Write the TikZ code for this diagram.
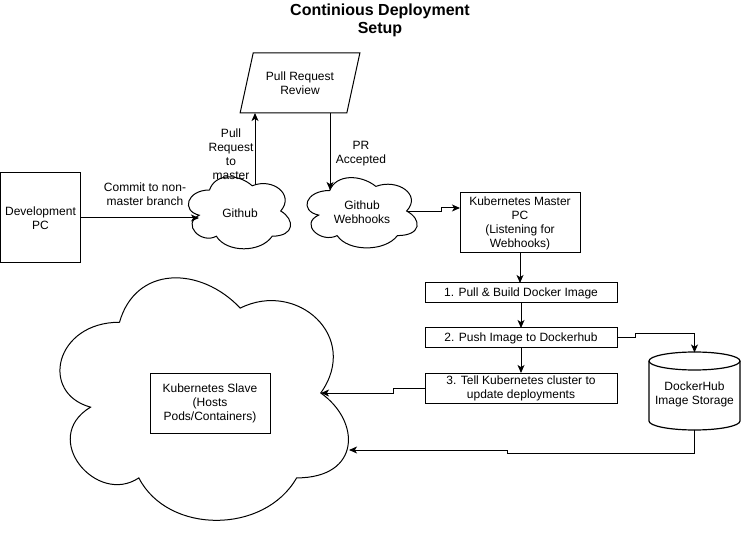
\documentclass[tikz,border=0pt]{standalone}
\usepackage{fontspec}
\setmainfont{Liberation Sans}
\usetikzlibrary{shapes.geometric,arrows.meta}
\newcommand\mxcloud[4]{\draw[cloudline,shift={(#1,#2)},xscale=#3,yscale=#4] (0.25,0.25) .. controls (0.05,0.25) and (0,0.5) .. (0.16,0.55) .. controls (0,0.66) and (0.18,0.9) .. (0.31,0.8) .. controls (0.4,1) and (0.7,1) .. (0.8,0.8) .. controls (1,0.8) and (1,0.6) .. (0.875,0.5) .. controls (1,0.3) and (0.8,0.1) .. (0.625,0.2) .. controls (0.5,0.05) and (0.3,0.05) .. (0.25,0.25) -- cycle;}
\tikzset{
  every node/.style={font=\fontsize{9}{10.5}\selectfont, align=center},
  box/.style={draw, line width=0.75pt, inner sep=1pt, outer sep=0pt},
  plain/.style={inner sep=0pt, outer sep=0pt},
  cloudline/.style={line width=0.75pt},
  arr/.style={line width=0.75pt, -{Stealth[length=6pt,width=5.2pt,inset=1.6pt]}},
}
\begin{document}
\begin{tikzpicture}[x=0.75pt,y=-0.75pt]
\useasboundingbox (0,0) rectangle (742,534);

% title
\node[plain, font=\fontsize{12}{13.5}\selectfont\bfseries] (title) at (380,20.5) {Continious Deployment\\Setup};

% development PC
\node[box, minimum width=59.6pt, minimum height=67.5pt] (dev) at (40.5,218) {Development\\PC};

% clouds
\mxcloud{181}{169}{114}{84}
\node[plain, minimum width=85.5pt, minimum height=63pt] (gh) at (240,213) {Github};
\coordinate (ghL) at (199,218);
\coordinate (ghT) at (255,185);

\mxcloud{299}{170}{123}{82}
\node[plain] (wh) at (362,212.5) {Github\\Webhooks};
\coordinate (whT) at (330,190);
\coordinate (whR) at (407,212);

\mxcloud{39}{251.5}{322}{283}
\coordinate (kcR1) at (321,393);
\coordinate (kcR2) at (349,450);

% pull request review
\node[draw, line width=0.75pt, trapezium, trapezium left angle=67.4, trapezium right angle=112.6,
      trapezium stretches=true, minimum width=90pt, minimum height=45pt, inner sep=0pt, outer sep=0pt]
      (prr) at (300,83) {Pull Request\\Review};

% kubernetes master
\node[box, minimum width=90pt, minimum height=45pt] (master) at (520,223) {Kubernetes Master\\PC\\(Listening for\\Webhooks)};

% steps
\node[box, minimum width=144pt, minimum height=15pt] (step1) at (521,293) {1. Pull \& Build Docker Image};
\node[box, minimum width=144pt, minimum height=15pt] (step2) at (521,338) {2. Push Image to Dockerhub};
\node[box, minimum width=144pt, minimum height=22.5pt] (step3) at (521,388) {3. Tell Kubernetes cluster to\\update deployments};

% kubernetes slave
\node[box, minimum width=90pt, minimum height=45pt] (slave) at (210,403) {Kubernetes Slave\\(Hosts\\Pods/Containers)};

% dockerhub cylinder
\draw[line width=0.9pt, fill=white] (649,361) -- (649,421) arc[start angle=180,end angle=360,x radius=34.125pt,y radius=6.75pt] -- (740,361) arc[start angle=0,end angle=180,x radius=34.125pt,y radius=6.75pt] -- cycle;
\draw[line width=0.9pt] (649,361) arc[start angle=180,end angle=360,x radius=34.125pt,y radius=6.75pt];
\node[plain, minimum width=68.25pt, minimum height=57.75pt] (dh) at (694.5,391) {};
\node[plain] (dhtext) at (694.5,394.5) {DockerHub\\Image Storage};

% connectors
\draw[arr] (dev.east) -- (ghL);
\node[plain] (l1) at (145,194) {Commit to non-\\master branch};

\draw[arr] (ghT) -- (ghT |- prr.south);
\node[plain] (l2) at (231,154) {Pull\\Request\\to\\master};

\draw[arr] (prr.south -| whT) -- (whT);
\node[plain] (l3) at (361,154) {PR\\Accepted};

\draw[arr] (whR) -- (441,212) -- (441,208) -- (master.west |- 0,208);

\draw[arr] (master.south) -- (master.south |- step1.north);
\draw[arr] (step1.south) -- (step2.north);
\draw[arr] (step2.south) -- (step3.north);

\draw[arr] (step2.east) -- (635,338) -- (635,334) -| (dh.north);
\draw[arr] (step3.west) -- (393,388) -- (393,393) -- (kcR1);
\draw[arr] (dh.south) |- (507,453) -- (507,450) -- (kcR2);
\end{tikzpicture}
\end{document}
